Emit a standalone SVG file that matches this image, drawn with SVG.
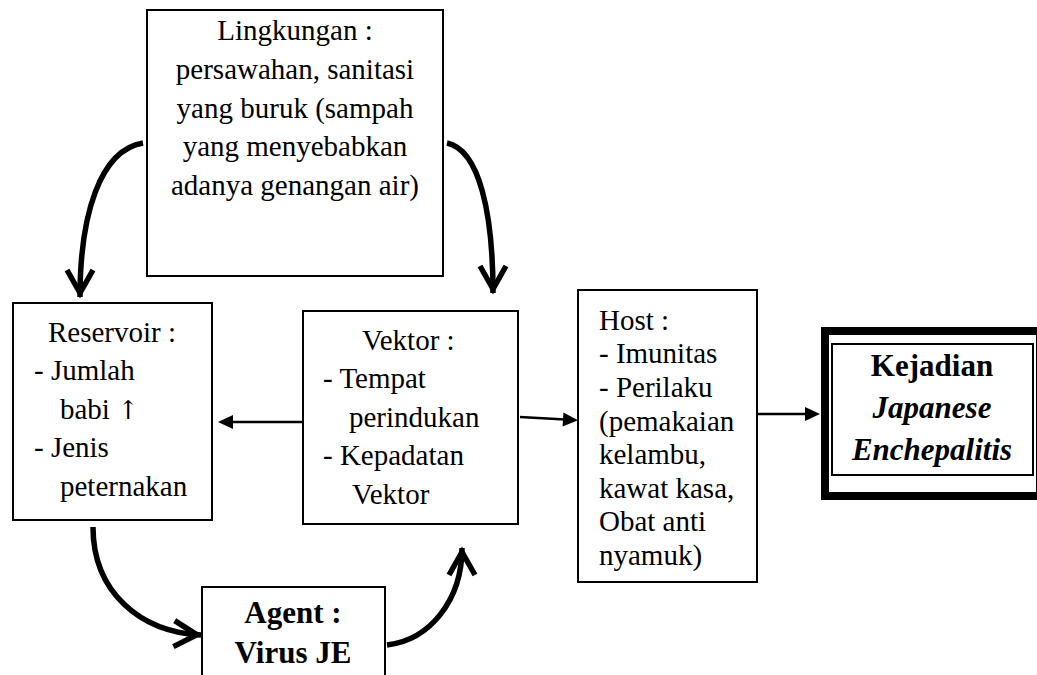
<svg xmlns="http://www.w3.org/2000/svg" width="1037" height="675" viewBox="0 0 1037 675">
  <style>
    .box { fill: #ffffff; stroke: #000000; stroke-width: 2; }
    .thick { fill: #ffffff; stroke: #000000; stroke-width: 8; }
    .t { font-family: "Liberation Serif", "Times New Roman", serif; font-size: 29px; fill: #000000; }
    .c { text-anchor: middle; }
    .b { font-weight: bold; font-size: 31px; }
    .bi { font-weight: bold; font-style: italic; font-size: 31px; }
    .sym { font-family: "DejaVu Serif", serif; font-size: 26px; }
    .curve { fill: none; stroke: #000000; stroke-width: 5.5; }
    .line { fill: none; stroke: #000000; stroke-width: 2.5; }
  </style>
  <defs>
    <!-- open chevron head for the thick curved connectors -->
    <marker id="chev" markerUnits="userSpaceOnUse" orient="auto" viewBox="-40 -20 50 40" refX="0" refY="0" markerWidth="50" markerHeight="40" overflow="visible">
      <path d="M-27,-13 L-4,0 L-27,13" fill="none" stroke="#000000" stroke-width="5.5" stroke-linejoin="miter" stroke-miterlimit="10"/>
    </marker>
    <!-- solid triangle head for the thin straight connectors -->
    <marker id="tri" markerUnits="userSpaceOnUse" orient="auto" viewBox="-20 -10 30 20" refX="0" refY="0" markerWidth="30" markerHeight="20" overflow="visible">
      <path d="M-11,-7 L4,0 L-11,7 Z" fill="#000000"/>
    </marker>
  </defs>

  <rect width="1037" height="675" fill="#ffffff"/>

  <g id="connectors">
    <path class="curve" d="M143,143 C100,150 80,215 80,297" marker-end="url(#chev)"/>
    <path class="curve" d="M447,143 C480,150 493,215 493,293" marker-end="url(#chev)"/>
    <path class="curve" d="M93,527 C93,592 140,632 201,635" marker-end="url(#chev)"/>
    <path class="curve" d="M387,645 C430,640 462,600 462,548" marker-end="url(#chev)"/>
    <path class="line" d="M303,422 L222,422" marker-end="url(#tri)"/>
    <path class="line" d="M520,417 L574,420" marker-end="url(#tri)"/>
    <path class="line" d="M757,414 L816,414" marker-end="url(#tri)"/>
  </g>

  <g id="lingkungan">
    <rect class="box" x="147" y="10" width="296" height="266"/>
    <text class="t c" x="295" y="40">Lingkungan :</text>
    <text class="t c" x="295" y="79">persawahan, sanitasi</text>
    <text class="t c" x="295" y="118">yang buruk (sampah</text>
    <text class="t c" x="295" y="156">yang menyebabkan</text>
    <text class="t c" x="295" y="195">adanya genangan air)</text>
  </g>

  <g id="reservoir">
    <rect class="box" x="13" y="303" width="199" height="217"/>
    <text class="t" x="48" y="342">Reservoir :</text>
    <text class="t" x="34" y="380">- Jumlah</text>
    <text class="t" x="60" y="419">babi <tspan class="sym">↑</tspan></text>
    <text class="t" x="34" y="457">- Jenis</text>
    <text class="t" x="60" y="496">peternakan</text>
  </g>

  <g id="vektor">
    <rect class="box" x="303" y="311" width="215" height="213"/>
    <text class="t" x="362" y="350">Vektor :</text>
    <text class="t" x="323" y="388">- Tempat</text>
    <text class="t" x="349" y="427">perindukan</text>
    <text class="t" x="323" y="465">- Kepadatan</text>
    <text class="t" x="352" y="504">Vektor</text>
  </g>

  <g id="host">
    <rect class="box" x="578" y="290" width="179" height="292"/>
    <text class="t" x="599" y="330">Host :</text>
    <text class="t" x="599" y="363">- Imunitas</text>
    <text class="t" x="599" y="397">- Perilaku</text>
    <text class="t" x="599" y="431">(pemakaian</text>
    <text class="t" x="599" y="464">kelambu,</text>
    <text class="t" x="599" y="498">kawat kasa,</text>
    <text class="t" x="599" y="531">Obat anti</text>
    <text class="t" x="599" y="565">nyamuk)</text>
  </g>

  <g id="kejadian">
    <rect class="thick" x="825" y="331" width="215" height="165"/>
    <rect class="box" x="832" y="344" width="201" height="131"/>
    <text class="t c b" x="932" y="376">Kejadian</text>
    <text class="t c bi" x="932" y="418">Japanese</text>
    <text class="t c bi" x="932" y="460">Enchepalitis</text>
  </g>

  <g id="agent">
    <rect class="box" x="202" y="587" width="183" height="100"/>
    <text class="t c b" x="293" y="623">Agent :</text>
    <text class="t c b" x="293" y="663">Virus JE</text>
  </g>
</svg>
